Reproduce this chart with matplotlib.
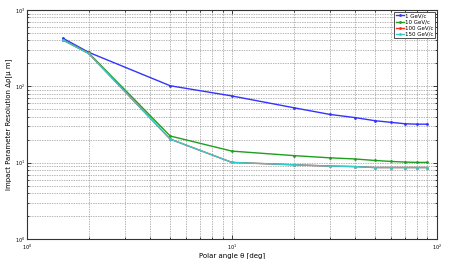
import numpy as np
import matplotlib
matplotlib.use("Agg")
import matplotlib.pyplot as plt
from matplotlib.ticker import LogLocator, NullFormatter

# polar angle points (deg)
theta = [1.5, 2, 5, 10, 20, 30, 40, 50, 60, 70, 80, 90]

# impact parameter resolution (um) per momentum
res_1 = [427, 280, 102, 75, 52.6, 43, 39, 35.5, 33.8, 32.4, 32, 32]
res_10 = [410, 275, 22.4, 14.2, 12.4, 11.6, 11.2, 10.7, 10.4, 10.2, 10.1, 10.1]
res_100 = [405, 270, 20.4, 10.1, 9.4, 9.05, 8.9, 8.65, 8.65, 8.65, 8.65, 8.65]
res_150 = [405, 270, 20.4, 10.1, 9.4, 9.05, 8.9, 8.65, 8.65, 8.65, 8.65, 8.65]

labels = ['1 GeV/c', '10 GeV/c', '100 GeV/c', '150 GeV/c']
colors = ['#3333ff', '#1f9f1f', '#ff2a1a', '#33cccc']

fig = plt.figure(figsize=(4.49, 2.59), dpi=100)
ax = fig.add_axes([0.060, 0.077, 0.913, 0.884])

for ys, lab, c in zip([res_1, res_10, res_100, res_150], labels, colors):
    ax.plot(theta, ys, color=c, lw=1.0, marker='.', markersize=2, label=lab)

ax.set_xscale('log')
ax.set_yscale('log')
ax.set_xlim(1, 100)
ax.set_ylim(1, 1000)

ax.xaxis.set_minor_locator(LogLocator(base=10, subs=np.arange(2, 10)))
ax.yaxis.set_minor_locator(LogLocator(base=10, subs=np.arange(2, 10)))
ax.xaxis.set_minor_formatter(NullFormatter())
ax.yaxis.set_minor_formatter(NullFormatter())

ax.grid(True, which='both', linestyle=(0, (2, 1.5)), color='#999999', lw=0.5)
ax.set_axisbelow(True)
ax.tick_params(which='both', direction='in', top=True, right=True, labelsize=3.5, width=0.5, pad=1.5)
ax.tick_params(axis='x', which='both', pad=2.3)
ax.tick_params(which='major', length=3)
ax.tick_params(which='minor', length=1.5)
for s in ax.spines.values():
    s.set_linewidth(0.8)
    s.set_color('#333333')

ax.set_xlabel('Polar angle θ [deg]', fontsize=5)
ax.xaxis.set_label_coords(0.5, -0.058)
ax.set_ylabel('Impact Parameter Resolution Δρ[μ m]', fontsize=5, labelpad=2)

leg = ax.legend(loc='upper right', fontsize=4, handlelength=1.4, handletextpad=0.2,
                borderpad=0.3, labelspacing=0.2, fancybox=False, framealpha=1,
                borderaxespad=0.3)
leg.get_frame().set_edgecolor('#333333')
leg.get_frame().set_linewidth(0.6)

fig.savefig('out.png', dpi=100)
